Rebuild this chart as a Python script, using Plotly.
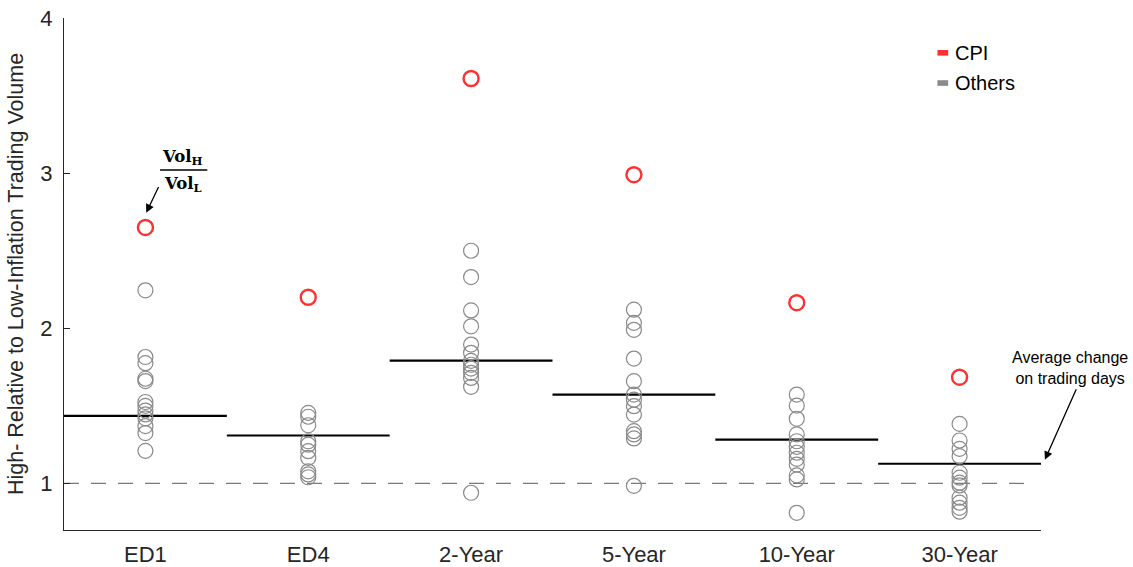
import plotly.graph_objects as go

categories = ["ED1", "ED4", "2-Year", "5-Year", "10-Year", "30-Year"]
cpi = [2.65, 2.20, 3.61, 2.99, 2.165, 1.685]
others = [
    [2.245, 1.815, 1.775, 1.675, 1.66, 1.525, 1.50, 1.47, 1.445, 1.42, 1.37, 1.325, 1.21],
    [1.455, 1.43, 1.375, 1.272, 1.25, 1.208, 1.165, 1.078, 1.058, 1.04],
    [2.50, 2.33, 2.115, 2.013, 1.895, 1.842, 1.79, 1.765, 1.74, 1.713, 1.68, 1.623, 0.94],
    [2.12, 2.035, 1.99, 1.805, 1.659, 1.573, 1.54, 1.498, 1.444, 1.337, 1.316, 1.29, 0.985],
    [1.573, 1.502, 1.417, 1.316, 1.272, 1.236, 1.198, 1.159, 1.122, 1.052, 1.026, 0.811],
    [1.384, 1.277, 1.223, 1.176, 1.069, 1.037, 1.005, 0.987, 0.908, 0.876, 0.843, 0.818],
]
means = [1.435, 1.309, 1.792, 1.573, 1.283, 1.127]
yticks = [1, 2, 3, 4]

GRAY = "#8a8a8a"
RED = "#ff3030"
FONT = "Liberation Sans"
AX = "#262626"

fig = go.Figure()

xs = list(range(1, len(categories) + 1))

# reference dashed line at 1
fig.add_trace(go.Scatter(x=[0.5, 6.45], y=[1, 1], mode="lines",
                         line=dict(color="#7a7a7a", width=1.3, dash="15px,12px"),
                         showlegend=False, hoverinfo="skip"))

# mean lines
for xi, m in zip(xs, means):
    fig.add_trace(go.Scatter(x=[xi - 0.5, xi + 0.5], y=[m, m], mode="lines",
                             line=dict(color="black", width=2.2),
                             showlegend=False, hoverinfo="skip"))

# others
for xi, vals in zip(xs, others):
    fig.add_trace(go.Scatter(x=[xi] * len(vals), y=vals, mode="markers",
                             marker=dict(symbol="circle-open", size=15,
                                         color=GRAY, line=dict(width=1.2, color=GRAY)),
                             showlegend=False))

# cpi
fig.add_trace(go.Scatter(x=xs, y=cpi, mode="markers",
                         marker=dict(symbol="circle-open", size=15,
                                     color=RED, line=dict(width=2.4, color=RED)),
                         showlegend=False))

# manual legend
legend_items = [("CPI", RED, 0.932), ("Others", GRAY, 0.873)]
for name, col, yp in legend_items:
    fig.add_shape(type="rect", xref="paper", yref="paper",
                  x0=0.894, x1=0.905, y0=yp - 0.0055, y1=yp + 0.0055,
                  fillcolor=col, line=dict(width=0))
    fig.add_annotation(x=0.910, y=yp, xref="paper", yref="paper", text=name,
                       showarrow=False, xanchor="left", yanchor="middle",
                       font=dict(family=FONT, size=20, color="black"))

# Vol_H / Vol_L fraction annotation
fig.add_annotation(x=1.23, y=3.10, text="<b>Vol<sub>H</sub></b>", showarrow=False,
                   font=dict(family="DejaVu Serif", size=16.5, color="black"),
                   xanchor="center", yanchor="middle")
fig.add_annotation(x=1.23, y=2.93, text="<b>Vol<sub>L</sub></b>", showarrow=False,
                   font=dict(family="DejaVu Serif", size=16.5, color="black"),
                   xanchor="center", yanchor="middle")
fig.add_shape(type="line", x0=1.09, x1=1.38, y0=3.02, y1=3.02,
              line=dict(color="black", width=1.5))
fig.add_annotation(x=1.005, y=2.745, ax=1.085, ay=2.92, xref="x", yref="y",
                   axref="x", ayref="y", text="", showarrow=True,
                   arrowhead=2, arrowsize=1.3, arrowwidth=1.3, arrowcolor="black")

# Average change annotation (outside the x range -> paper coordinates)
fig.add_annotation(x=1.030, y=0.317, xref="paper", yref="paper",
                   text="Average change<br>on trading days",
                   showarrow=False, font=dict(family=FONT, size=16, color="black"),
                   xanchor="center", yanchor="middle")
fig.add_annotation(x=1.004, y=0.137, xref="paper", yref="paper",
                   ax=32, ay=-72, text="", showarrow=True,
                   arrowhead=2, arrowsize=1.3, arrowwidth=1.3, arrowcolor="black")

fig.update_layout(
    width=1133, height=567,
    margin=dict(l=64, r=92, t=18, b=37, autoexpand=False),
    plot_bgcolor="white", paper_bgcolor="white",
    font=dict(family=FONT, size=22, color=AX),
    showlegend=False,
    xaxis=dict(range=[0.5, 6.5], tickmode="array", tickvals=xs, ticktext=categories,
               showgrid=False, zeroline=False, showline=True, linecolor=AX,
               linewidth=1, ticks="", ticklabelstandoff=5, automargin=False,
               tickfont=dict(size=22, color=AX)),
    yaxis=dict(range=[0.7, 4], tickmode="array", tickvals=yticks,
               ticktext=[str(t) for t in yticks],
               showgrid=False, zeroline=False, showline=True, linecolor=AX,
               linewidth=1, ticks="inside", ticklen=6, tickcolor=AX,
               ticklabelstandoff=6, automargin=False,
               tickfont=dict(size=22, color=AX),
               title=dict(text="High- Relative to Low-Inflation Trading Volume",
                          font=dict(size=21.5, color=AX), standoff=10)),
)

fig.write_html("out.html")
